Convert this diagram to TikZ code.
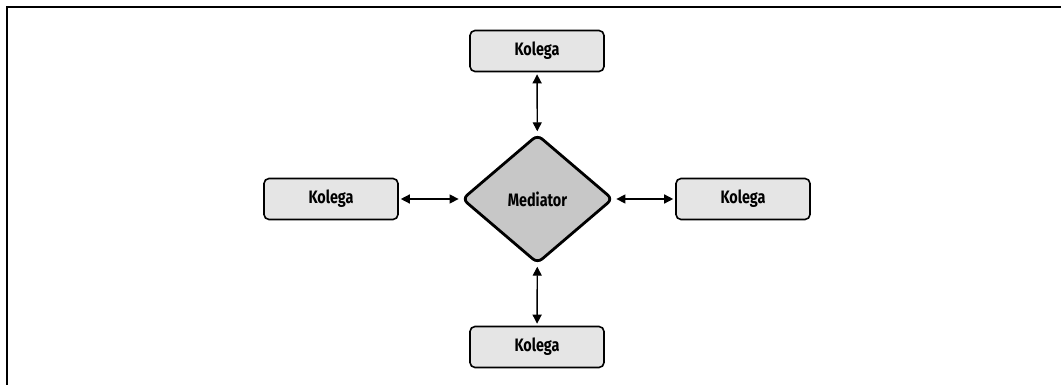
\documentclass[tikz,border=0pt]{standalone}
\usepackage{fontspec}
\setsansfont[FakeStretch=0.8]{Fira Sans}
\usetikzlibrary{shapes.geometric,arrows.meta}

\tikzset{
	kolega/.style={draw, line width=1.6pt, rounded corners=5pt, fill=black!10,
		minimum width=134pt, minimum height=41pt, font=\sffamily\bfseries\fontsize{18}{20}\selectfont},
	mediator/.style={diamond, draw, line width=2.8pt, rounded corners=6pt, fill=black!22,
		minimum width=151pt, minimum height=129pt, aspect=1.17, inner sep=0pt,
		font=\sffamily\bfseries\fontsize{18}{20}\selectfont},
	link/.style={line width=1.4pt, {Triangle[width=9pt,length=9pt]}-{Triangle[width=9pt,length=9pt]}, shorten <=2pt, shorten >=2pt}
}

\begin{document}
\begin{tikzpicture}[x=1pt,y=-1pt]
		\useasboundingbox (0,0) rectangle (1061,385);
		% frame
		\draw[line width=2.4pt] (7,385) -- (7,7) -- (1061,7);
		\node[mediator] (M) at (537.5,199) {Mediator};
		\node[kolega] (top) at (537,51) {Kolega};
		\node[kolega] (bottom) at (537,347) {Kolega};
		\node[kolega] (left) at (331,199) {Kolega};
		\node[kolega] (right) at (743,199) {Kolega};
		\draw[link] (top) -- (M);
		\draw[link] (M) -- (bottom);
		\draw[link] (left) -- (M);
		\draw[link] (M) -- (right);
	\end{tikzpicture}
\end{document}
